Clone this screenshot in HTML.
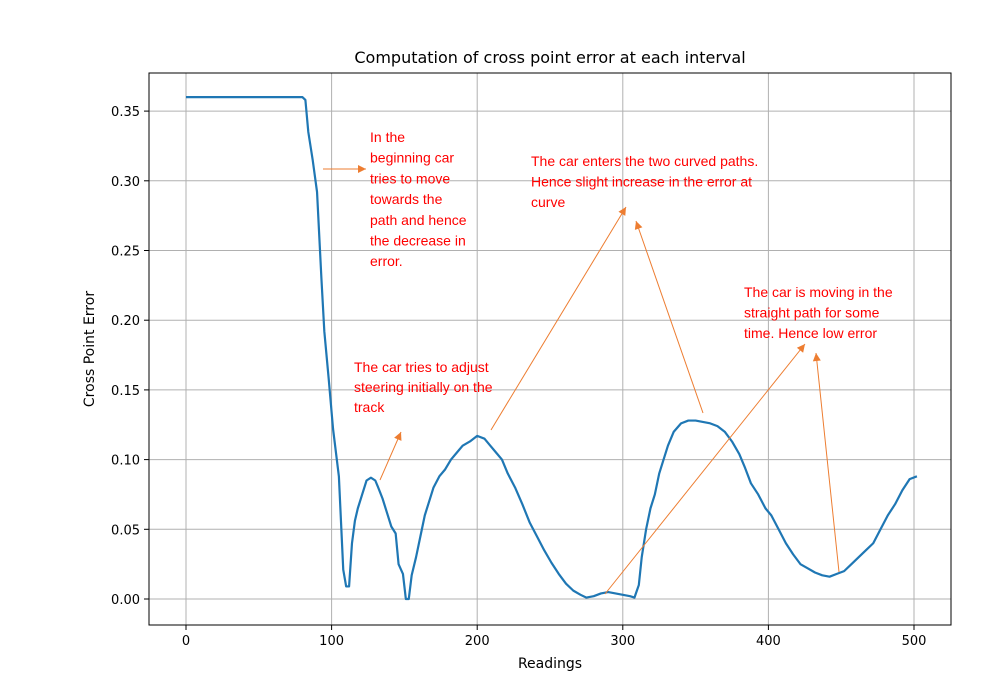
<!DOCTYPE html>
<html><head><meta charset="utf-8"><style>
body{margin:0;background:#fff}
svg{display:block;font-family:"DejaVu Sans","Liberation Sans",sans-serif}
.ann{font-family:"Liberation Sans",sans-serif;font-size:14px;fill:#ff0000}
</style></head><body>
<svg id="c" width="1000" height="690"></svg>
<script>
const xs=[0,80,82,84,87,90,93,95,98,101,105,108,110,112,114,116,118,121,124,127,130,132,135,138,141,144,146,149,151,153,155,158,161,164,167,170,174,178,182,186,190,195,200,205,209,213,217,221,226,231,236,241,246,251,256,261,266,271,275,280,285,290,295,300,305,308,311,313,316,319,322,325,328,331,335,340,345,350,355,360,365,370,375,380,384,388,393,398,402,407,412,417,422,427,432,437,442,447,452,457,462,467,472,477,482,487,492,497,502];
const ys=[0.36,0.36,0.358,0.335,0.315,0.292,0.23,0.192,0.158,0.122,0.088,0.021,0.009,0.009,0.04,0.056,0.065,0.075,0.085,0.087,0.085,0.08,0.072,0.062,0.052,0.047,0.025,0.018,0,0,0.017,0.03,0.045,0.06,0.07,0.08,0.088,0.093,0.1,0.105,0.11,0.113,0.117,0.115,0.11,0.105,0.1,0.09,0.08,0.068,0.055,0.045,0.035,0.026,0.018,0.011,0.006,0.003,0.001,0.002,0.004,0.005,0.004,0.003,0.002,0.001,0.01,0.03,0.05,0.065,0.075,0.09,0.1,0.11,0.12,0.126,0.128,0.128,0.127,0.126,0.124,0.12,0.113,0.104,0.094,0.083,0.075,0.065,0.06,0.05,0.04,0.032,0.025,0.022,0.019,0.017,0.016,0.018,0.02,0.025,0.03,0.035,0.04,0.05,0.06,0.068,0.078,0.086,0.088];
const xTicks=[0,100,200,300,400,500];
const yTicks=[0,0.05,0.10,0.15,0.20,0.25,0.30,0.35];
const L=149,R=951,T=73,B=625;
const X=v=>186+v*1.456, Y=v=>599-v*1394;
const s=document.getElementById('c');const NS='http://www.w3.org/2000/svg';
function el(t,a,txt){const e=document.createElementNS(NS,t);for(const k in a)e.setAttribute(k,a[k]);if(txt!=null)e.textContent=txt;s.appendChild(e);return e;}
xTicks.forEach(t=>{
 const g=el('line',{x1:X(t),x2:X(t),y1:T,y2:B,stroke:'#b0b0b0','stroke-width':1});
 
 el('line',{x1:X(t),x2:X(t),y1:B,y2:B+5,stroke:'#000'});
 const l=el('text',{x:X(t),y:B+20,'text-anchor':'middle','font-size':13},String(t));
 
});
yTicks.forEach(t=>{
 const g=el('line',{x1:L,x2:R,y1:Y(t),y2:Y(t),stroke:'#b0b0b0','stroke-width':1});
 
 el('line',{x1:L-5,x2:L,y1:Y(t),y2:Y(t),stroke:'#000'});
 const l=el('text',{x:L-9,y:Y(t)+5,'text-anchor':'end','font-size':13},t.toFixed(2));
 
});
const fr=el('rect',{x:L,y:T,width:R-L,height:B-T,fill:'none',stroke:'#000','stroke-width':1});

const p=el('polyline',{points:xs.map((x,i)=>X(x)+','+Y(ys[i])).join(' '),fill:'none',stroke:'#1f77b4','stroke-width':2.2,'stroke-linejoin':'round'});

const ti=el('text',{x:550,y:63,'text-anchor':'middle','font-size':16},'Computation of cross point error at each interval');

const xl=el('text',{x:550,y:668,'text-anchor':'middle','font-size':14},'Readings');

const yl=el('text',{x:94,y:349,'text-anchor':'middle','font-size':14,transform:'rotate(-90 94 349)'},'Cross Point Error');

// annotations
const arrows=[[323,169,366,169],[380,480,401,432],[491,430,626,207],[703,413,636,221],[605,594,805,344],[839,572,816,353]];
arrows.forEach(a=>{
 const ln=el('line',{x1:a[0],y1:a[1],x2:a[2],y2:a[3],stroke:'#ed7d31','stroke-width':1});
 
 const ang=Math.atan2(a[3]-a[1],a[2]-a[0]),h=8,w=4;
 const bx=a[2]-h*Math.cos(ang),by=a[3]-h*Math.sin(ang);
 el('polygon',{points:`${a[2]},${a[3]} ${bx-w*Math.sin(ang)},${by+w*Math.cos(ang)} ${bx+w*Math.sin(ang)},${by-w*Math.cos(ang)}`,fill:'#ed7d31'});
});
function block(x,y,lines,lh,name){lines.forEach((t,i)=>{const e=el('text',{x:x,y:y+i*lh,class:'ann'},t);});}
block(370,142,['In the','beginning car','tries to move','towards the','path and hence','the decrease in','error.'],20.7,'annotation-beginning');
block(354,372,['The car tries to adjust','steering initially on the','track'],20,'annotation-adjust');
block(531,166,['The car enters the two curved paths.','Hence slight increase in the error at','curve'],20.5,'annotation-curves');
block(744,297,['The car is moving in the','straight path for some','time. Hence low error'],20.5,'annotation-straight');
</script>
</body></html>
